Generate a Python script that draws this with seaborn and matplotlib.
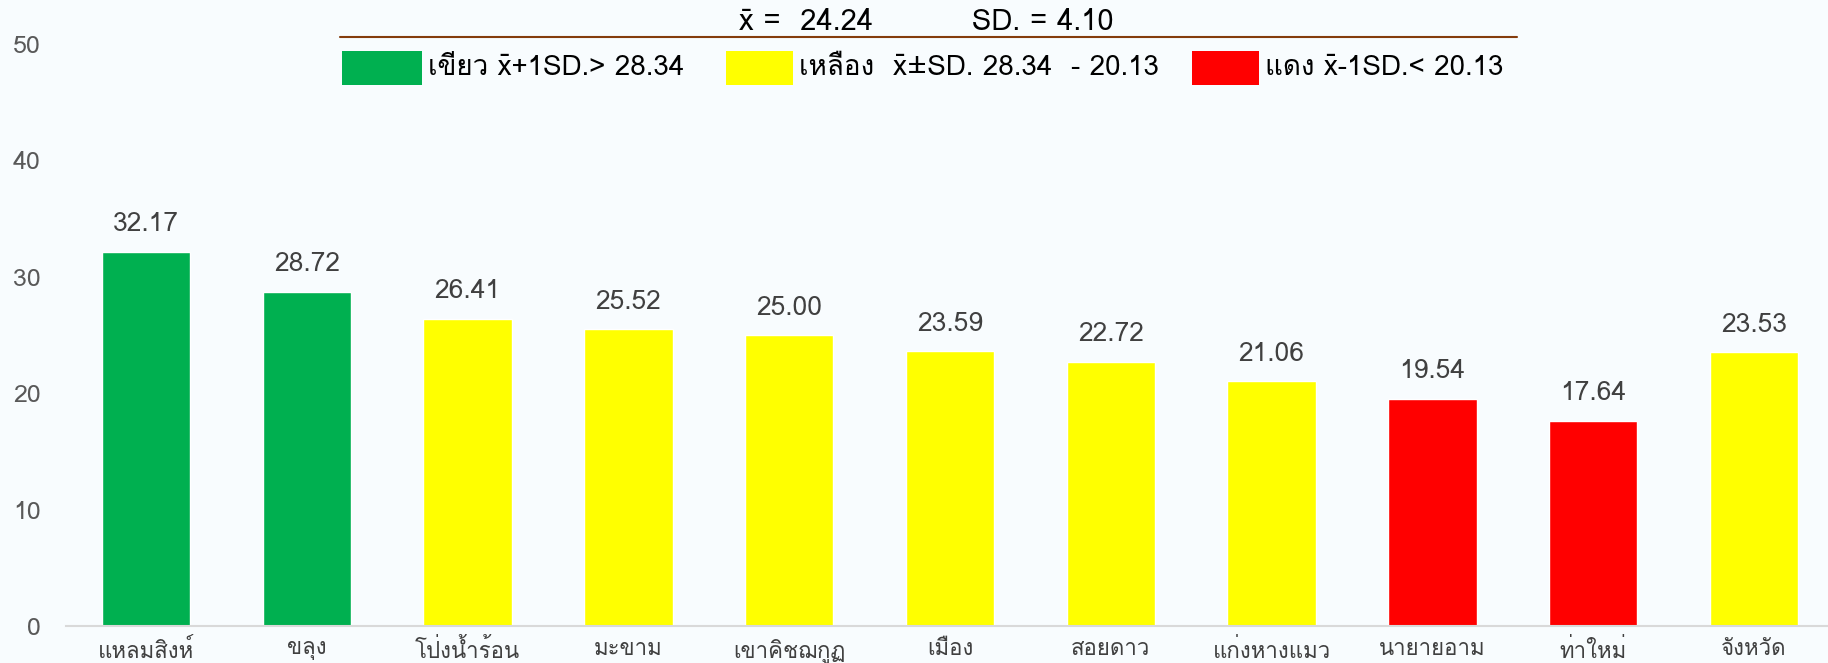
import matplotlib
matplotlib.use('Agg')
import matplotlib.pyplot as plt
from matplotlib.patches import Rectangle
from matplotlib.lines import Line2D
from matplotlib import font_manager
import seaborn as sns
import pandas as pd

districts = ['แหลมสิงห์', 'ขลุง', 'โป่งน้ำร้อน', 'มะขาม', 'เขาคิชฌกูฏ', 'เมือง',
             'สอยดาว', 'แก่งหางแมว', 'นายายอาม', 'ท่าใหม่', 'จังหวัด']
scores = [32.17, 28.72, 26.41, 25.52, 25.00, 23.59, 22.72, 21.06, 19.54, 17.64, 23.53]
levels = ['green', 'green', 'yellow', 'yellow', 'yellow', 'yellow',
          'yellow', 'yellow', 'red', 'red', 'yellow']
mean_val = 24.24
sd_val = 4.10
upper = 28.34
lower = 20.13

level_colors = {'green': '#00B050', 'yellow': '#FFFF00', 'red': '#FF0000'}
bg = '#F8FCFE'


def find_thai_font():
    # look for any installed font that has Thai glyphs
    from matplotlib.ft2font import FT2Font
    for f in font_manager.fontManager.ttflist:
        try:
            font = FT2Font(f.fname)
            if 0x0E01 in font.get_charmap():
                return f.name
        except Exception:
            pass
    return None


sns.set_style('white')
thai = find_thai_font()
families = ([thai] if thai else []) + ['DejaVu Sans']
plt.rcParams['font.family'] = families

df = pd.DataFrame({'district': districts, 'score': scores, 'level': levels})

fig = plt.figure(figsize=(18.28, 6.63), dpi=100, facecolor=bg)
ax = fig.add_axes([0.0359, 0.0558, 0.9676, 0.8778])
ax.set_facecolor(bg)

sns.barplot(data=df, x='district', y='score', hue='district',
            palette=[level_colors[l] for l in levels], legend=False,
            width=0.55, saturation=1, ax=ax)

for i, v in enumerate(scores):
    ax.annotate(f'{v:.2f}', (i, v), xytext=(0, 11), textcoords='offset points',
                ha='center', va='bottom', fontsize=19, color='#404040')

ax.set_ylim(0, 50)
ax.set_xlim(-0.5, 10.5)
ax.set_yticks(range(0, 51, 10))
ax.set_xlabel('')
ax.set_ylabel('')
ax.tick_params(axis='y', labelsize=18, colors='#595959', length=0, pad=18)
ax.tick_params(axis='x', labelsize=16, colors='#404040', length=0, pad=9)
for s in ['top', 'right', 'left']:
    ax.spines[s].set_visible(False)
ax.spines['bottom'].set_color('#D9D9D9')
ax.spines['bottom'].set_linewidth(1.5)

# header with mean and SD
fig.text(0.507, 0.967, f'x̄ =  {mean_val:.2f}          SD. = {sd_val:.2f}',
         ha='center', va='center', fontsize=21, color='black')
fig.add_artist(Line2D([0.186, 0.830], [0.944, 0.944], color='#843C0C', lw=1.5))

# colour key
key = [
    ('green', f'เขียว x̄+1SD.> {upper:.2f}', 0.187, 0.044),
    ('yellow', f'เหลือง  x̄±SD. {upper:.2f}  - {lower:.2f}', 0.397, 0.037),
    ('red', f'แดง x̄-1SD.< {lower:.2f}', 0.652, 0.037),
]
for lvl, txt, x0, w in key:
    fig.add_artist(Rectangle((x0, 0.872), w, 0.051, transform=fig.transFigure,
                             facecolor=level_colors[lvl], edgecolor='none'))
    fig.text(x0 + w + 0.003, 0.898, txt, ha='left', va='center', fontsize=20, color='black')

fig.savefig('out.png', dpi=100, facecolor=bg)
